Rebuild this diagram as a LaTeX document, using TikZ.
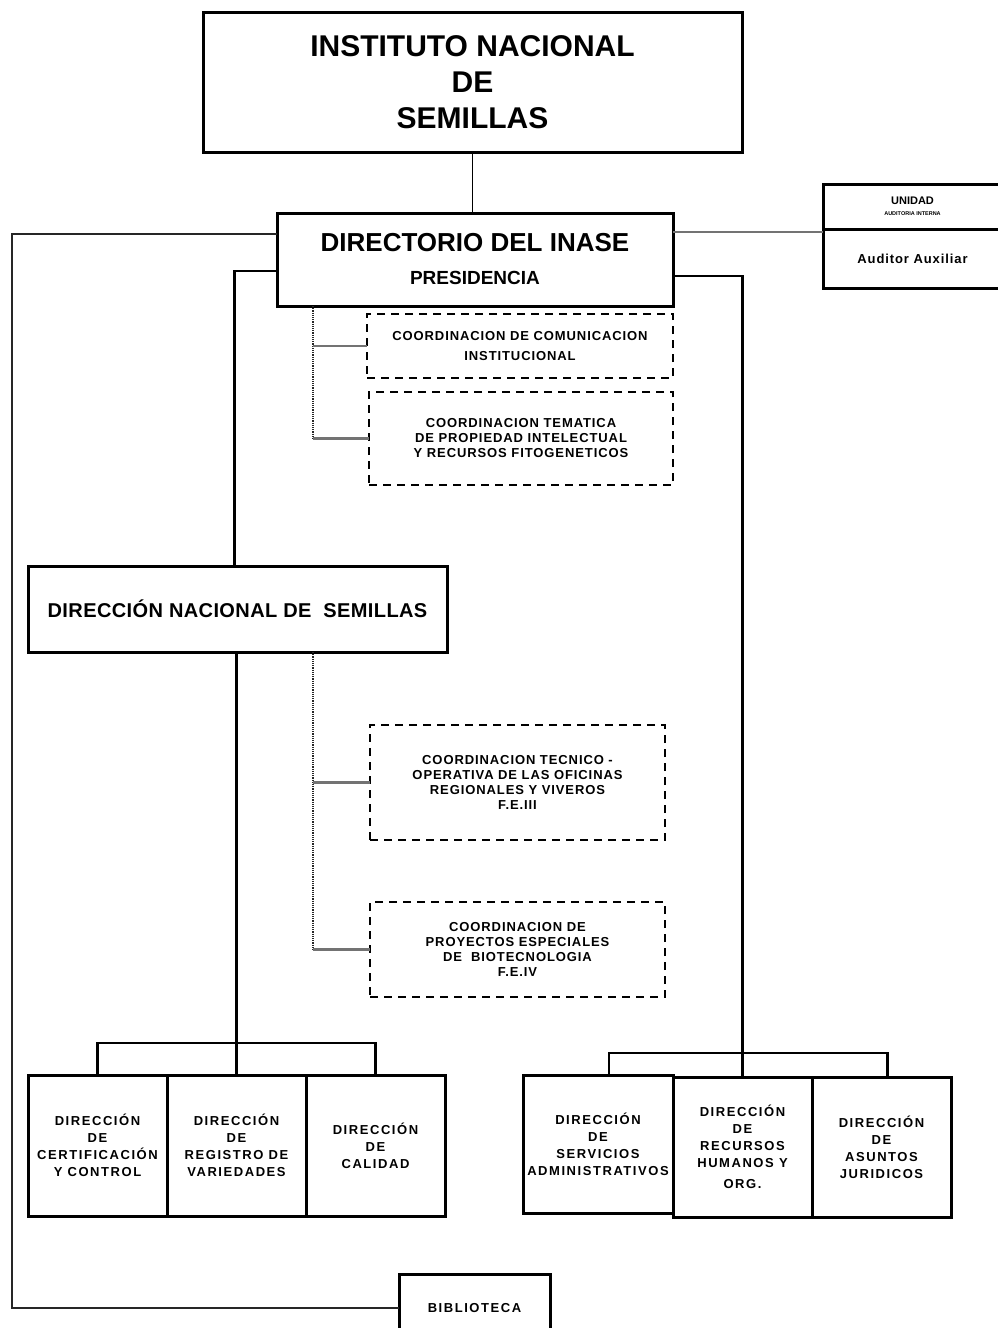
\documentclass[tikz,border=0pt]{standalone}
\usepackage{fontspec}
\setmainfont{Liberation Sans}
\newfontfamily\orgmid{Liberation Sans}[LetterSpace=7]
\newfontfamily\orgwide{Liberation Sans}[LetterSpace=12]
\usetikzlibrary{positioning,calc}

\newcommand\coordfont{\orgmid\bfseries\fontsize{13}{15}\selectfont}
\newcommand\areafont{\orgwide\bfseries\fontsize{13}{17}\selectfont}

\tikzset{
  unit/.style={draw, line width=3pt, outer sep=0pt, inner sep=0pt, align=center},
  coord/.style={draw, line width=2pt, dash pattern=on 8pt off 6pt, outer sep=0pt,
                inner sep=0pt, align=center, font=\coordfont},
  area/.style={unit, minimum width=139pt, minimum height=141pt, font=\areafont},
  link/.style={line width=2.5pt},
  thinlink/.style={line width=1.6pt},
  grayline/.style={line width=2.2pt, black!55},
  dotline/.style={line width=1.2pt, densely dotted, black!85}
}

\begin{document}
\begin{tikzpicture}[x=1pt, y=-1pt]
  \useasboundingbox (0,0) rectangle (997,1328);

  % top of the structure
  \node[unit, minimum width=539pt, minimum height=140pt,
        font=\bfseries\fontsize{30}{36}\selectfont] (inst) at (472.5,82)
        {INSTITUTO NACIONAL\\DE\\SEMILLAS};
  \node[unit, minimum width=396pt, minimum height=93pt,
        font=\bfseries\fontsize{19}{33}\selectfont] (dir) at (475,259.5)
        {\fontsize{26}{33}\selectfont DIRECTORIO DEL INASE\\
         \fontsize{19}{33}\selectfont PRESIDENCIA};

  % auditoria
  \node[unit, minimum width=179pt, minimum height=45pt] (unidad) at (912.5,206.5)
        {\fontsize{11}{11}\selectfont\bfseries UNIDAD\\[-1pt]
         \fontsize{5.5}{6}\selectfont\bfseries AUDITORIA INTERNA};
  \node[unit, minimum width=179pt, minimum height=59pt,
        font=\orgmid\bfseries\fontsize{13}{15}\selectfont] (aux) at (912.5,258.5)
        {Auditor Auxiliar};

  % coordinaciones del directorio
  \node[coord, minimum width=306pt, minimum height=64pt] (comunic) at (520,346)
        {COORDINACION DE COMUNICACION\\[5pt]INSTITUCIONAL};
  \node[coord, minimum width=304pt, minimum height=93pt] (tematica) at (521,438.5)
        {COORDINACION TEMATICA\\DE PROPIEDAD INTELECTUAL\\Y RECURSOS FITOGENETICOS};

  % direccion nacional
  \node[unit, minimum width=419pt, minimum height=86pt,
        font=\bfseries\fontsize{20}{24}\selectfont\addfontfeature{LetterSpace=2}] (dns)
        at (237.5,609) {DIRECCIÓN NACIONAL DE \ SEMILLAS};

  \node[coord, minimum width=295pt, minimum height=115pt] (oficinas) at (517.5,782.5)
        {COORDINACION TECNICO -\\OPERATIVA DE LAS OFICINAS\\REGIONALES Y VIVEROS\\F.E.III};
  \node[coord, minimum width=295pt, minimum height=95pt] (biotec) at (517.5,949.5)
        {COORDINACION DE\\PROYECTOS ESPECIALES\\DE \ BIOTECNOLOGIA\\F.E.IV};

  % direcciones
  \node[area] (cert) at (97.5,1145.5) {DIRECCIÓN\\DE\\CERTIFICACIÓN\\Y CONTROL};
  \node[area, right=0pt of cert] (registro) {DIRECCIÓN\\DE\\REGISTRO DE\\VARIEDADES};
  \node[area, right=0pt of registro] (calidad) {DIRECCIÓN\\DE\\CALIDAD};

  \node[area, minimum width=150pt, minimum height=138pt] (admin) at (598,1144)
        {DIRECCIÓN\\DE\\SERVICIOS\\ADMINISTRATIVOS};
  \node[area, minimum height=140pt] (rrhh) at (742.5,1147)
        {DIRECCIÓN\\DE\\RECURSOS\\HUMANOS Y\\[4pt]ORG.};
  \node[area, minimum height=140pt, right=0pt of rrhh] (juridicos)
        {DIRECCIÓN\\DE\\ASUNTOS\\JURIDICOS};

  \node[area, minimum width=151pt, minimum height=68pt] (biblio) at (474.5,1308)
        {BIBLIOTECA};

  % connectors
  \coordinate (lcorner) at (12,234);
  \coordinate (lbar) at (236.5,1043);
  \coordinate (rbar) at (742.5,1053);
  \coordinate (dtop) at ($(dir.south west)+(36,0)$);
  \coordinate (ntop) at ($(dns.south west)+(285,0)$);

  \draw[thinlink] (inst.south) -- (inst.south |- dir.north);
  \draw[link, black!85] ($(dir.north west)+(0,21)$) -- (lcorner)
        -- (lcorner |- biblio.west) -- (biblio.west);
  \draw[grayline] ($(dir.north east)+(0,19)$) -- ($(aux.north west)+(0,3)$);
  \draw[link] ($(dir.south west)+(0,-35)$) -| ($(dns.north)+(-3,0)$);
  \draw[link] ($(dir.south east)+(0,-30)$) -| (rbar);

  \draw[dotline] (dtop) -- (dtop |- tematica.west);
  \draw[grayline] (dtop |- comunic.west) -- (comunic.west);
  \draw[grayline] (dtop |- tematica.west) -- (tematica.west);

  \draw[dotline] (ntop) -- (ntop |- biotec.west);
  \draw[grayline] (ntop |- oficinas.west) -- (oficinas.west);
  \draw[grayline] (ntop |- biotec.west) -- (biotec.west);

  \draw[link] (registro.north |- dns.south) -- (registro.north);
  \draw[link] (cert.north) |- (lbar) -| (calidad.north);

  \draw[link] (rbar) -- (rrhh.north);
  \draw[link] ($(admin.north)+(11,0)$) |- (rbar) -| ($(juridicos.north)+(6,0)$);
\end{tikzpicture}
\end{document}
